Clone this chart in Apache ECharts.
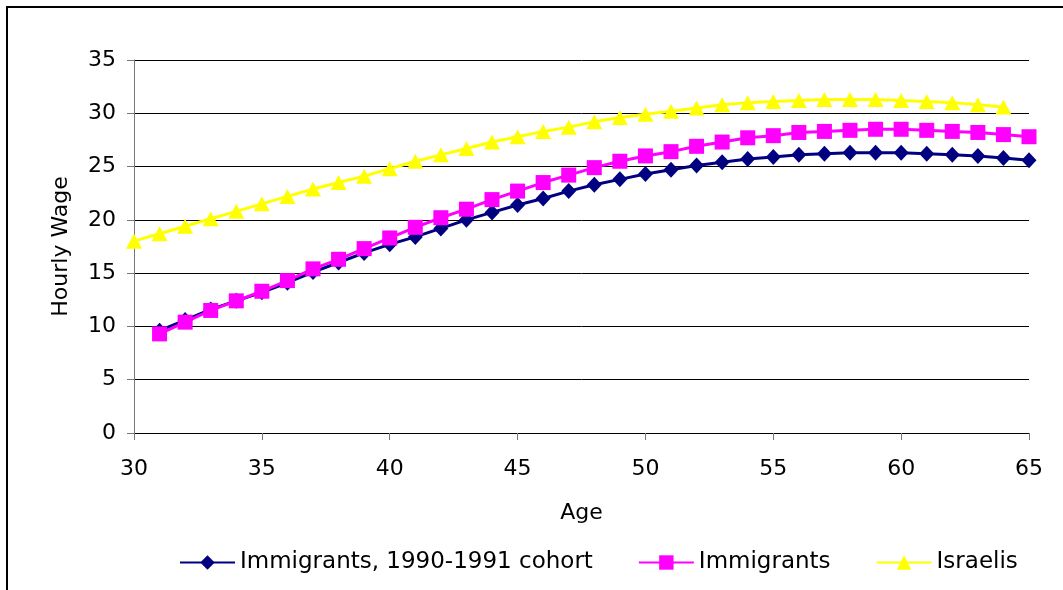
<!DOCTYPE html>
<html>
<head>
<meta charset="utf-8">
<script src="https://cdn.jsdelivr.net/npm/echarts@6/dist/echarts.min.js"></script>
<style>
html,body{margin:0;padding:0;background:#fff;}
#chart{width:1063px;height:590px;}
</style>
</head>
<body>
<div id="chart"></div>
<script>
var agesIsraelis = [30,31,32,33,34,35,36,37,38,39,40,41,42,43,44,45,46,47,48,49,50,51,52,53,54,55,56,57,58,59,60,61,62,63,64];
var agesImmigrants = [31,32,33,34,35,36,37,38,39,40,41,42,43,44,45,46,47,48,49,50,51,52,53,54,55,56,57,58,59,60,61,62,63,64,65];

var cohortValues = [9.6,10.6,11.6,12.4,13.2,14.1,15.1,16.0,16.9,17.7,18.4,19.2,20.0,20.7,21.4,22.0,22.7,23.3,23.8,24.3,24.7,25.1,25.4,25.7,25.9,26.1,26.2,26.3,26.3,26.3,26.2,26.1,26.0,25.8,25.6];
var immigrantsValues = [9.3,10.4,11.5,12.4,13.3,14.3,15.4,16.3,17.3,18.3,19.3,20.2,21.0,21.9,22.7,23.5,24.2,24.9,25.5,26.0,26.4,26.9,27.3,27.7,27.9,28.2,28.3,28.4,28.5,28.5,28.4,28.3,28.2,28.0,27.8];
var israelisValues = [18.0,18.7,19.4,20.1,20.8,21.5,22.2,22.9,23.5,24.1,24.8,25.5,26.1,26.7,27.3,27.8,28.3,28.7,29.2,29.6,29.9,30.2,30.5,30.8,31.0,31.1,31.2,31.3,31.3,31.3,31.2,31.1,31.0,30.8,30.6];

var seriesNames = ['Immigrants, 1990-1991 cohort','Immigrants','Israelis'];
var xTicks = [30,35,40,45,50,55,60,65];
var yTicks = [0,5,10,15,20,25,30,35];

function pairs(xs, ys){ return xs.map(function(x,i){ return [x, ys[i]]; }); }

var font = '"DejaVu Sans", sans-serif';
var chart = echarts.init(document.getElementById('chart'));
chart.setOption({
  animation: false,
  backgroundColor: '#ffffff',
  graphic: [{
    type: 'rect',
    shape: {x: 7, y: 7, width: 1200, height: 700},
    style: {fill: 'none', stroke: '#000', lineWidth: 2},
    silent: true
  }],
  grid: {left: 134, right: 34, top: 60, bottom: 157},
  legend: {
    data: seriesNames,
    left: 174,
    top: 546,
    itemWidth: 55,
    itemHeight: 18,
    itemGap: 45,
    textStyle: {fontFamily: font, fontSize: 23, color: '#000'}
  },
  xAxis: {
    type: 'value',
    min: xTicks[0], max: xTicks[xTicks.length-1], interval: 5,
    name: 'Age', nameLocation: 'middle', nameGap: 69,
    nameTextStyle: {fontFamily: font, fontSize: 22, color: '#000'},
    axisLine: {show: true, lineStyle: {color: '#000', width: 1}},
    axisTick: {show: true, length: 7, lineStyle: {color: '#777'}},
    axisLabel: {fontFamily: font, fontSize: 22, color: '#000', margin: 25},
    splitLine: {show: false}
  },
  yAxis: {
    type: 'value',
    min: yTicks[0], max: yTicks[yTicks.length-1], interval: 5,
    name: 'Hourly Wage', nameLocation: 'middle', nameGap: 62,
    nameTextStyle: {fontFamily: font, fontSize: 22, color: '#000'},
    axisLine: {show: true, lineStyle: {color: '#777', width: 1}},
    axisTick: {show: true, length: 7, lineStyle: {color: '#777'}},
    axisLabel: {fontFamily: font, fontSize: 22, color: '#000', margin: 18},
    splitLine: {show: true, lineStyle: {color: '#000', width: 1}}
  },
  series: [
    {
      name: seriesNames[0], type: 'line', data: pairs(agesImmigrants, cohortValues),
      symbol: 'diamond', symbolSize: [15,16],
      lineStyle: {color: '#000080', width: 3},
      itemStyle: {color: '#000080'}
    },
    {
      name: seriesNames[1], type: 'line', data: pairs(agesImmigrants, immigrantsValues),
      symbol: 'rect', symbolSize: 15,
      lineStyle: {color: '#FF00FF', width: 3},
      itemStyle: {color: '#FF00FF'}
    },
    {
      name: seriesNames[2], type: 'line', data: pairs(agesIsraelis, israelisValues),
      symbol: 'triangle', symbolSize: [16,15],
      lineStyle: {color: '#FFFF00', width: 3},
      itemStyle: {color: '#FFFF00'}
    }
  ]
});
</script>
</body>
</html>
